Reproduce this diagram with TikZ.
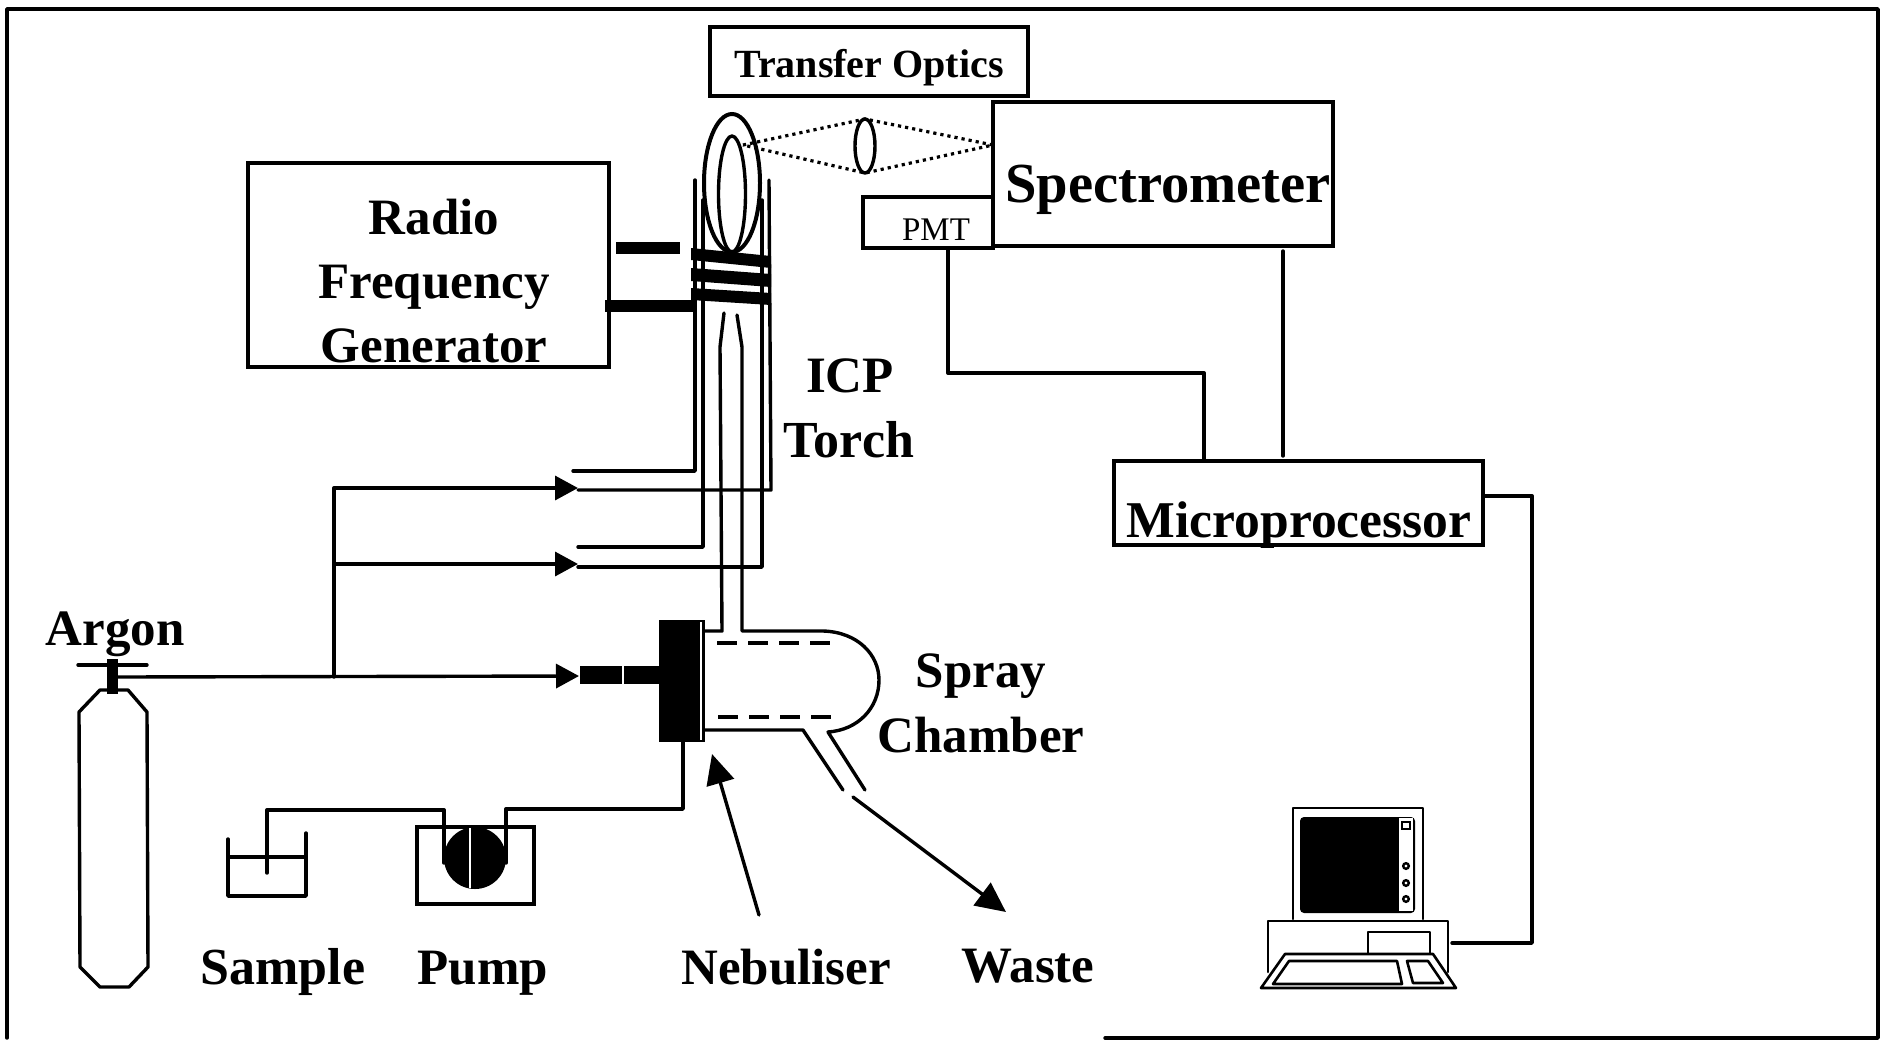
\documentclass[tikz,border=0pt]{standalone}
\usepackage{fontspec}
\setmainfont{Liberation Serif}
\usetikzlibrary{arrows.meta}
\tikzset{
  x=0.5pt,y=-0.5pt,
  ln/.style={draw=black,line width=1.7pt,line cap=round,line join=round},
  boxn/.style={draw=black,line width=1.7pt,rectangle,inner sep=0pt,outer sep=0pt,fill=white},
  lbl/.style={inner sep=0pt,outer sep=0pt,anchor=base,font=\bfseries\fontsize{25.5}{26}\selectfont,text=black},
  solid blk/.style={fill=black,draw=none},
  feed/.style={ln,-{Triangle[length=11.5pt,width=12pt]}},
  pointer/.style={ln,-{Triangle[length=15pt,width=14pt]}},
  sight/.style={draw=black,line width=1.6pt,dotted}
}
\begin{document}
\begin{tikzpicture}
\useasboundingbox (0,0) rectangle (1887,1040);
\fill[white] (0,0) rectangle (1887,1040);
% frame
\draw[ln] (7,1038) -- (7,9) -- (1878,9) -- (1878,1038) -- (1105,1038);

% boxes
\node[boxn,minimum width=159pt,minimum height=34.5pt] (optics) at (869,61.5) {};
\node[lbl,font=\bfseries\fontsize{20}{20}\selectfont] (opticst) at (869,77) {Transfer Optics};
\node[boxn,minimum width=170pt,minimum height=72pt] (spec) at (1163,174) {};
\node[lbl,font=\bfseries\fontsize{28.3}{28}\selectfont] (spect) at (1168,202) {Spectrometer};
\node[boxn,minimum width=65pt,minimum height=25.5pt] (pmt) at (928,222.5) {};
\node[inner sep=0pt,anchor=base,font=\fontsize{16.5}{17}\selectfont] (pmtt) at (936,240) {PMT};
\node[boxn,minimum width=180.5pt,minimum height=102pt] (rf) at (428.5,265) {};
\node[lbl] (rf1) at (434,234) {Radio};
\node[lbl] (rf2) at (434,298) {Frequency};
\node[lbl] (rf3) at (434,362) {Generator};
\node[boxn,minimum width=184.5pt,minimum height=42pt] (micro) at (1298.5,503) {};
\node[lbl,font=\bfseries\fontsize{25.8}{26}\selectfont] (microt) at (1299,537) {Microprocessor};

% detector wiring
\coordinate (pmtout) at (948,248);
\coordinate (pmtbend) at (948,373);
\coordinate (micbend1) at (1204,373);
\coordinate (micin1) at (1204,461);
\coordinate (specout) at (1283,251);
\coordinate (micin2) at (1283,456);
\coordinate (micout) at (1483,496);
\coordinate (micbend) at (1532,496);
\coordinate (pcbend) at (1532,943);
\coordinate (pcin) at (1452,943);
\draw[ln] (pmtout) -- (pmtbend) -- (micbend1) -- (micin1);
\draw[ln] (specout) -- (micin2);
\draw[ln] (micout) -- (micbend) -- (pcbend) -- (pcin);

% optics
\coordinate (plasma) at (743,145);
\coordinate (lenstop) at (865,119);
\coordinate (lensbot) at (865,173);
\coordinate (slit) at (993,145);
\draw[sight] (plasma) -- (lenstop) -- (slit) -- (lensbot) -- (plasma);
\draw[ln,fill=white] (865,146) ellipse [x radius=10,y radius=27];

% torch plasma
\draw[line width=2pt] (732,183) ellipse [x radius=28,y radius=69];
\draw[ln] (732,194) ellipse [x radius=13.5,y radius=58];

% torch tubes
\draw[ln] (695,180) -- (695,471) -- (573,471);
\draw[ln] (703,200) -- (703,547) -- (578,547);
\draw[ln] (769,180) -- (771,490) -- (578,490);
\draw[ln] (762,200) -- (762,567) -- (578,567);
% injector + spray chamber
\draw[ln] (724,313) -- (720,347) -- (722,631) -- (705,631);
\draw[ln] (737,315) -- (742,347) -- (742,631) -- (823,631)
   .. controls (858,632) and (879,655) .. (879,680)
   .. controls (879,708) and (858,730) .. (828,732) -- (865,790);
\draw[ln] (705,730) -- (803,730) -- (843,790);
\draw[ln,dash pattern=on 10pt off 5.5pt,line cap=butt] (717,643) -- (831,643);
\draw[ln,dash pattern=on 10pt off 5.5pt,line cap=butt] (718,717) -- (832,717);

% coils
\fill[solid blk] (691,248) -- (771,256) -- (771,268) -- (691,260) -- cycle;
\fill[solid blk] (691,268) -- (771,274) -- (771,287) -- (691,281) -- cycle;
\fill[solid blk] (691,288) -- (771,293) -- (771,305) -- (691,300) -- cycle;

% RF leads
\fill[solid blk] (616,242) rectangle (680,254);
\fill[solid blk] (605,300) rectangle (694,312);

% nebuliser block
\fill[solid blk] (659,620) rectangle (705,742);
\draw[white,line width=0.8pt] (701,622) -- (701,740);
\fill[solid blk] (580,666) rectangle (659,684);
\draw[white,line width=0.8pt] (623,666) -- (623,684);

\node[lbl] (icp) at (850,392) {ICP};
\node[lbl,font=\bfseries\fontsize{26}{26}\selectfont] (torch) at (849,457) {Torch};
\node[lbl] (spray) at (981,687) {Spray};
\node[lbl] (chamber) at (981,752) {Chamber};

% argon cylinder
\draw[ln] (100,690) -- (128,690) -- (147,712) -- (148,967) -- (129,987) -- (100,987) -- (80,967) -- (79,712) -- cycle;
\fill[solid blk] (107,659) rectangle (118,694);
\draw[ln] (78,665) -- (147,665);
\node[lbl] (argon) at (115,645) {Argon};

% gas feeds
\coordinate (argout) at (118,677);
\coordinate (branch) at (334,677);
\coordinate (branchtop) at (334,488);
\coordinate (branchmid) at (334,564);
\coordinate (tipa) at (578,488);
\coordinate (tipb) at (578,564);
\coordinate (tipc) at (579,676);
\draw[feed] (argout) -- (tipc);
\draw[feed] (branch) -- (branchtop) -- (tipa);
\draw[feed] (branchmid) -- (tipb);

% sample + pump
\draw[ln] (228,839) -- (228,896) -- (306,896) -- (306,833);
\draw[ln] (228,857) -- (306,857);
\node[lbl,font=\bfseries\fontsize{26}{26}\selectfont] (sample) at (283,984) {Sample};
\node[boxn,fill=none,minimum width=58.5pt,minimum height=38.5pt] (pumpbox) at (475.5,865.5) {};
\fill[solid blk] (475,858) circle (31);
\draw[white,line width=1pt] (470,828) -- (470,888);
\node[lbl] (pump) at (483,984) {Pump};
\coordinate (pumpl) at (444,863);
\coordinate (pumpr) at (506,863);
\draw[ln] (267,873) -- (267,810) -- (444,810) -- (pumpl);
\draw[ln] (pumpr) -- (506,809) -- (683,809) -- (683,742);

% pointers
\coordinate (nebfrom) at (759,915);
\coordinate (nebto) at (712,754);
\coordinate (wastefrom) at (853,797);
\coordinate (wasteto) at (1006,912);
\draw[pointer] (nebfrom) -- (nebto);
\draw[pointer] (wastefrom) -- (wasteto);
\node[lbl] (neb) at (786,984) {Nebuliser};
\node[lbl] (waste) at (1028,982) {Waste};

% computer
\draw[ln,line width=1.3pt] (1293,919) -- (1293,808) -- (1423,808) -- (1423,919);
\fill[solid blk,rounded corners=2pt] (1300,817) rectangle (1415,913);
\fill[white] (1399,818) rectangle (1413,911);
\draw[line width=1pt] (1402,822) rectangle (1410,829);
\foreach \py in {866,883,899} \draw[line width=1.2pt] (1406,\py) circle (2.8);
\draw[ln,line width=1.3pt] (1268,972) -- (1268,921) -- (1448,921) -- (1448,972);
\draw[ln,line width=1.3pt] (1368,953) -- (1368,932) -- (1430,932) -- (1430,953);
\draw[ln,line width=1.3pt,fill=white] (1285,954) -- (1433,954) -- (1456,988) -- (1261,988) -- cycle;
\draw[ln,line width=1.3pt] (1289,961) -- (1397,961) -- (1402,984) -- (1273,984) -- cycle;
\draw[ln,line width=1.3pt] (1407,961) -- (1428,961) -- (1443,983) -- (1413,983) -- cycle;
\end{tikzpicture}
\end{document}
